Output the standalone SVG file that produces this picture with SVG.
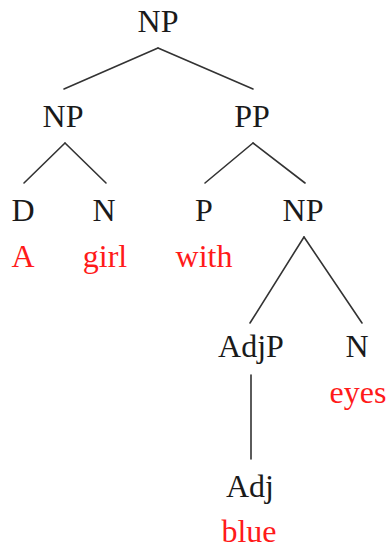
<svg xmlns="http://www.w3.org/2000/svg" width="388" height="548" viewBox="0 0 388 548">
<style>
text{font-size:32px;text-anchor:middle}
.cat{fill:#1a1a1a}
.word{fill:#ff1a1a}
.edge{stroke:#333;stroke-width:1.6;fill:none;stroke-linecap:round}
</style>
<rect width="388" height="548" fill="#fff"/>
<g id="connectors">
<line class="edge" x1="158" y1="48" x2="64" y2="89"/>
<line class="edge" x1="158" y1="48" x2="253" y2="89"/>
<line class="edge" x1="65" y1="143" x2="24" y2="183"/>
<line class="edge" x1="65" y1="143" x2="106" y2="183"/>
<line class="edge" x1="253" y1="143" x2="205" y2="183"/>
<line class="edge" x1="253" y1="143" x2="305" y2="183"/>
<line class="edge" x1="304" y1="237" x2="250" y2="323"/>
<line class="edge" x1="304" y1="237" x2="362" y2="323"/>
<line class="edge" x1="251" y1="375" x2="251" y2="459"/>
</g>
<g font-family="Liberation Serif, serif">
<g id="n-np-root"><text class="cat" x="158" y="32">NP</text></g>
<g id="n-np-left"><text class="cat" x="63" y="127">NP</text></g>
<g id="n-pp"><text class="cat" x="252" y="127">PP</text></g>
<g id="n-d"><text class="cat" x="23" y="221">D</text><text class="word" x="23" y="267">A</text></g>
<g id="n-n1"><text class="cat" x="104" y="221">N</text><text class="word" x="105" y="267">girl</text></g>
<g id="n-p"><text class="cat" x="204" y="221">P</text><text class="word" x="204" y="267">with</text></g>
<g id="n-np-right"><text class="cat" x="303" y="221">NP</text></g>
<g id="n-adjp"><text class="cat" x="251" y="357">AdjP</text></g>
<g id="n-n2"><text class="cat" x="357" y="357">N</text><text class="word" x="358" y="403">eyes</text></g>
<g id="n-adj"><text class="cat" x="250" y="497">Adj</text><text class="word" x="249" y="542">blue</text></g>
</g>
</svg>
